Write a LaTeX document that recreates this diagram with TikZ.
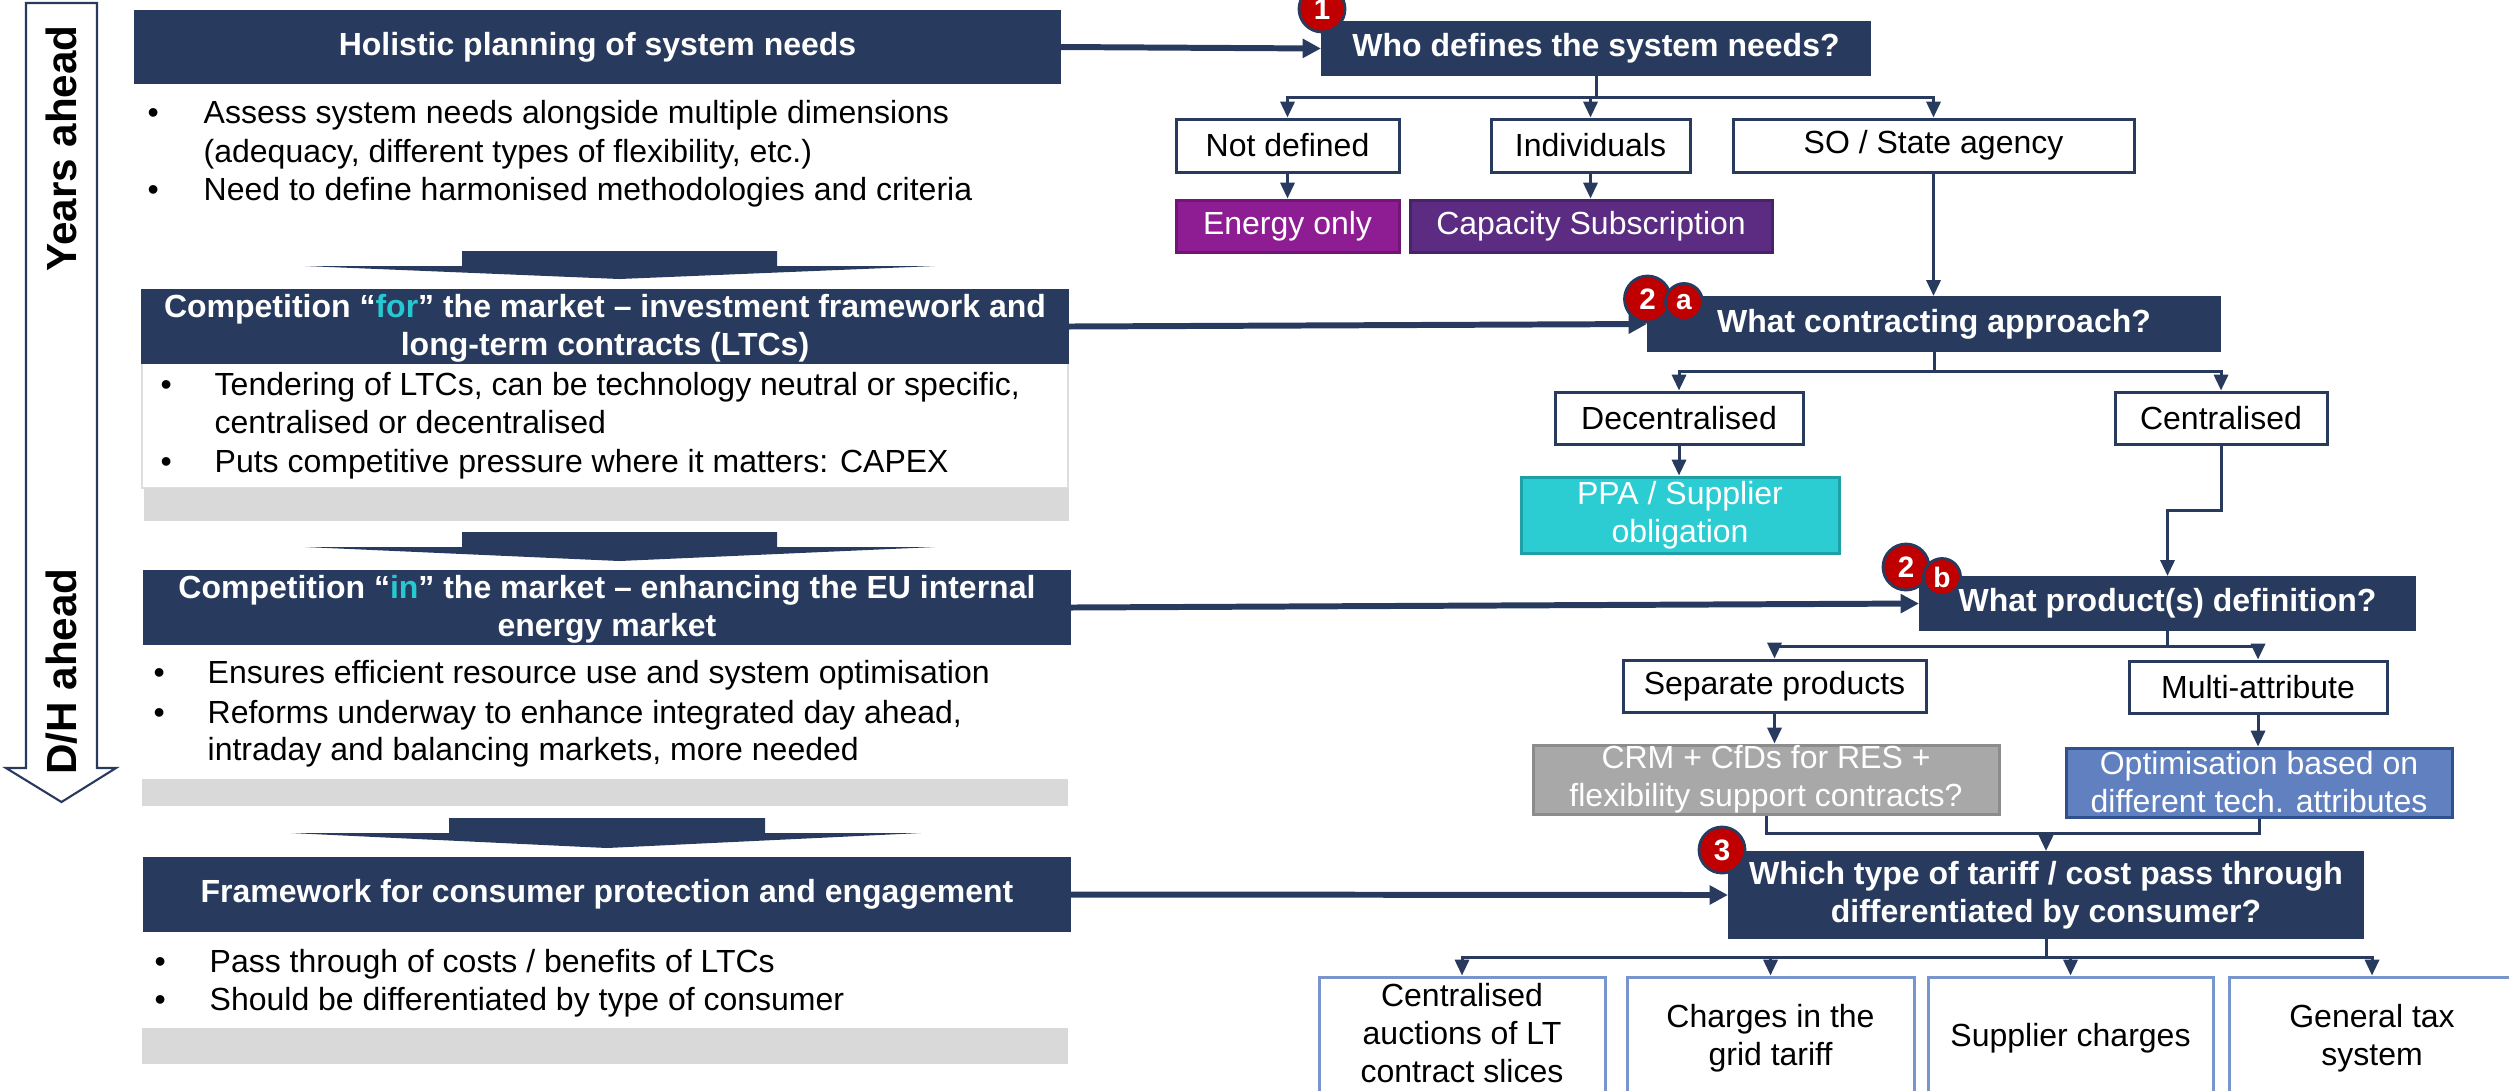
\documentclass[tikz,border=0pt]{standalone}
\usepackage{fontspec}
\setmainfont{Liberation Sans}
\usetikzlibrary{arrows.meta,fit}
\definecolor{navy}{RGB}{40,59,94}
\definecolor{bred}{RGB}{192,0,0}
\definecolor{purpA}{RGB}{142,28,146}
\definecolor{purpB}{RGB}{91,44,130}
\definecolor{cyanfill}{RGB}{44,204,211}
\definecolor{cyanline}{RGB}{30,160,166}
\definecolor{tealtxt}{RGB}{38,200,210}
\definecolor{crmfill}{RGB}{168,168,168}
\definecolor{crmline}{RGB}{140,140,140}
\definecolor{optfill}{RGB}{96,128,192}
\definecolor{optline}{RGB}{47,80,140}
\definecolor{lblue}{RGB}{120,150,205}
\definecolor{graybar}{RGB}{217,217,217}
\definecolor{lightframe}{RGB}{222,222,222}
\newcommand\fs{\fontsize{9.1}{10.8}\selectfont}
\tikzset{
  base box/.style={rectangle, inner sep=0pt},
  navybox/.style={base box, fill=navy, draw=navy, line width=0.6pt},
  whitebox/.style={base box, fill=white, draw=navy, line width=0.85pt},
  colbox/.style={base box, fill=#1, line width=0.85pt},
  tailbox/.style={base box, fill=white, draw=lblue, line width=0.85pt},
  boldtext/.style={inner sep=0pt, align=center, text=white, font=\fs\bfseries},
  whitetext/.style={inner sep=0pt, align=center, text=white, font=\fs},
  blacktext/.style={inner sep=0pt, align=center, text=black, font=\fs},
  btxt/.style={anchor=base west, inner sep=0pt, font=\fs},
  conn/.style={draw=navy, line width=0.85pt, -{Triangle[length=4.5pt,width=4pt]}},
  plainconn/.style={draw=navy, line width=0.85pt},
  bigconn/.style={draw=navy, line width=1.7pt, -{Triangle[length=5.2pt,width=5.2pt]}},
  badge/.style={circle, fill=bred, draw=navy, line width=0.8pt, inner sep=0pt, minimum size=0.46cm, text=white, font=\fontsize{8.4}{9}\selectfont\bfseries},
  sbadge/.style={badge, minimum size=0.37cm, font=\fontsize{8}{9}\selectfont\bfseries},
  blockarrow/.style={fill=navy, draw=none},
  bar/.style={fill=graybar, draw=none}
}
% #1 box style, #2 text style, #3 #4 corners, #5 name, #6 text
\newcommand\mkbox[6]{%
  \node[#1, fit={#3 #4}] (#5) {};
  \node[#2] (#5-t) at (#5.center) {#6};}
\begin{document}
\begin{tikzpicture}[x=0.01cm, y=-0.01cm]
\useasboundingbox (0,0) rectangle (2509,1090);
\clip (0,0) rectangle (2509,1090);

% ---- time arrow on the left
\draw[navy, line width=0.6pt, fill=white] (26,3) -- (97,3) -- (97,768) -- (116,768) -- (61.5,802) -- (6,768) -- (26,768) -- cycle;
\node[rotate=90, anchor=base, inner sep=0pt, font=\fontsize{12}{12}\selectfont\bfseries] (ya) at (77,148.5) {Years ahead};
\node[rotate=90, anchor=base, inner sep=0pt, font=\fontsize{12}{12}\selectfont\bfseries] (dh) at (77,671.5) {D/H ahead};

% ---- block 1
\mkbox{navybox}{boldtext}{(135,11)}{(1060,83)}{t1}{Holistic planning of system needs}
\node[btxt] (d1a) at (147,123) {•};
\node[btxt] (l1a) at (203,123) {Assess system needs alongside multiple dimensions};
\node[btxt] (l1b) at (203,162) {(adequacy, different types of flexibility, etc.)};
\node[btxt] (d1c) at (147,200) {•};
\node[btxt] (l1c) at (203,200) {Need to define harmonised methodologies and criteria};

\fill[blockarrow] (462,251) -- (777,251) -- (777,266) -- (935,266) -- (619.5,279) -- (305,266) -- (462,266) -- cycle;

% ---- block 2
\draw[lightframe, line width=0.4pt, fill=white] (142,363) rectangle (1068,488);
\mkbox{navybox}{boldtext, yshift=-0.02cm}{(142,290)}{(1068,363)}{t2}{Competition “{\color{tealtxt}for}” the market – investment framework and\\long-term contracts (LTCs)}
\node[btxt] (d2a) at (160,395) {•};
\node[btxt] (l2a) at (214,395) {Tendering of LTCs, can be technology neutral or specific,};
\node[btxt] (l2b) at (214,433) {centralised or decentralised};
\node[btxt] (d2c) at (160,472) {•};
\node[btxt] (l2c) at (214,472) {Puts competitive pressure where it matters: CAPEX};
\fill[bar] (144,488) rectangle (1069,521);

\fill[blockarrow] (462,532) -- (777,532) -- (777,547) -- (935,547) -- (619.5,561) -- (305,547) -- (462,547) -- cycle;

% ---- block 3
\mkbox{navybox}{boldtext, yshift=-0.02cm}{(144,571)}{(1070,644)}{t3}{Competition “{\color{tealtxt}in}” the market – enhancing the EU internal\\energy market}
\node[btxt] (d3a) at (153,683) {•};
\node[btxt] (l3a) at (207,683) {Ensures efficient resource use and system optimisation};
\node[btxt] (d3b) at (153,723) {•};
\node[btxt] (l3b) at (207,723) {Reforms underway to enhance integrated day ahead,};
\node[btxt] (l3c) at (207,760) {intraday and balancing markets, more needed};
\fill[bar] (142,779) rectangle (1068,806);

\fill[blockarrow] (449,818) -- (765,818) -- (765,833) -- (921,833) -- (607,848) -- (291,833) -- (449,833) -- cycle;

% ---- block 4
\mkbox{navybox}{boldtext}{(144,858)}{(1070,931)}{t4}{Framework for consumer protection and engagement}
\node[btxt] (d4a) at (154,972) {•};
\node[btxt] (l4a) at (209,972) {Pass through of costs / benefits of LTCs};
\node[btxt] (d4b) at (154,1010) {•};
\node[btxt] (l4b) at (209,1010) {Should be differentiated by type of consumer};
\fill[bar] (142,1028) rectangle (1068,1064);

% ---- decision tree
\mkbox{navybox}{boldtext}{(1322,22)}{(1870,75)}{q1}{Who defines the system needs?}
\mkbox{whitebox}{blacktext}{(1176,119)}{(1399,172)}{nd}{Not defined}
\mkbox{whitebox}{blacktext}{(1491,119)}{(1690,172)}{ind}{Individuals}
\mkbox{whitebox}{blacktext}{(1733,119)}{(2134,172)}{so}{SO / State agency}
\mkbox{colbox=purpA, draw=purpA!80!black}{whitetext}{(1176,200)}{(1399,252)}{eo}{Energy only}
\mkbox{colbox=purpB, draw=purpB!80!black}{whitetext}{(1410,200)}{(1772,252)}{cs}{Capacity Subscription}

\mkbox{navybox}{boldtext}{(1648,297)}{(2220,351)}{q2a}{What contracting approach?}
\mkbox{whitebox}{blacktext}{(1555,392)}{(1803,444)}{dec}{Decentralised}
\mkbox{whitebox}{blacktext}{(2115,392)}{(2327,444)}{cen}{Centralised}
\mkbox{colbox=cyanfill, draw=cyanline}{whitetext}{(1521,477)}{(1839,553)}{ppa}{PPA / Supplier\\obligation}

\mkbox{navybox}{boldtext}{(1920,577)}{(2415,630)}{q2b}{What product(s) definition?}
\mkbox{whitebox}{blacktext}{(1623,660)}{(1926,712)}{sep}{Separate products}
\mkbox{whitebox}{blacktext}{(2129,661)}{(2387,713)}{mul}{Multi-attribute}
\mkbox{colbox=crmfill, draw=crmline}{whitetext}{(1533,745)}{(1999,814)}{crm}{CRM + CfDs for RES +\\flexibility support contracts?}
\mkbox{colbox=optfill, draw=optline}{whitetext}{(2066,748)}{(2452,817)}{opt}{Optimisation based on\\different tech. attributes}

\mkbox{navybox}{boldtext}{(1729,852)}{(2363,938)}{q3}{Which type of tariff / cost pass through\\differentiated by consumer?}
\mkbox{tailbox}{blacktext, yshift=0.05cm}{(1319,977)}{(1605,1099)}{e1}{Centralised\\auctions of LT\\contract slices}
\mkbox{tailbox}{blacktext}{(1627,977)}{(1914,1099)}{e2}{Charges in the\\grid tariff}
\mkbox{tailbox}{blacktext}{(1928,977)}{(2213,1099)}{e3}{Supplier charges}
\mkbox{tailbox}{blacktext}{(2229,977)}{(2515,1099)}{e4}{General tax\\system}

% branching points
\coordinate (br1) at (1596,97);
\coordinate (br2) at (1934,371);
\coordinate (k1) at (2221,510);
\coordinate (k2) at (2167.5,510);
\coordinate (br3) at (2167.5,646);
\coordinate (mg) at (2046,833);
\coordinate (br4) at (2046,957);

\draw[conn] (q1.south) -- (br1) -| (nd.north);
\draw[conn] (br1) -| (ind.north);
\draw[conn] (br1) -| (so.north);
\draw[conn] (nd.south) -- (eo.north);
\draw[conn] (ind.south) -- (ind.south |- cs.north);
\draw[conn] (so.south) -- (so.south |- q2a.north);

\draw[conn] (q2a.south) -- (br2) -| (dec.north);
\draw[conn] (br2) -| (cen.north);
\draw[conn] (dec.south) -- (dec.south |- ppa.north);
\draw[conn] (cen.south) -- (k1) -- (k2) -- (q2b.north);

\draw[conn] (q2b.south) -- (br3) -| (sep.north);
\draw[conn] (br3) -| (mul.north);
\draw[conn] (sep.south) -- (sep.south |- crm.north);
\draw[conn] (mul.south) -- (mul.south |- opt.north);
\draw[plainconn] (crm.south) |- (mg);
\draw[plainconn] (opt.south) |- (mg);
\draw[conn] (mg) -- (q3.north);

\draw[conn] (q3.south) -- (br4) -| (e1.north);
\draw[conn] (br4) -| (e2.north);
\draw[conn] (br4) -| (e3.north);
\draw[conn] (br4) -| (e4.north);

% main arrows from the left blocks
\draw[bigconn] (t1.east) -- (q1.west);
\draw[bigconn] (t2.east) -- (q2a.west);
\draw[bigconn] (t3.east) -- (q2b.west);
\draw[bigconn] (t4.east) -- (q3.west);

% badges
\node[badge] (n1) at (1322,9) {1};
\node[badge] (n2a) at (1647.5,299) {2};
\node[sbadge] (na) at (1684,302) {a};
\node[badge] (n2b) at (1906,567) {2};
\node[sbadge] (nb) at (1942,577) {b};
\node[badge] (n3) at (1722,850) {3};
\end{tikzpicture}
\end{document}
